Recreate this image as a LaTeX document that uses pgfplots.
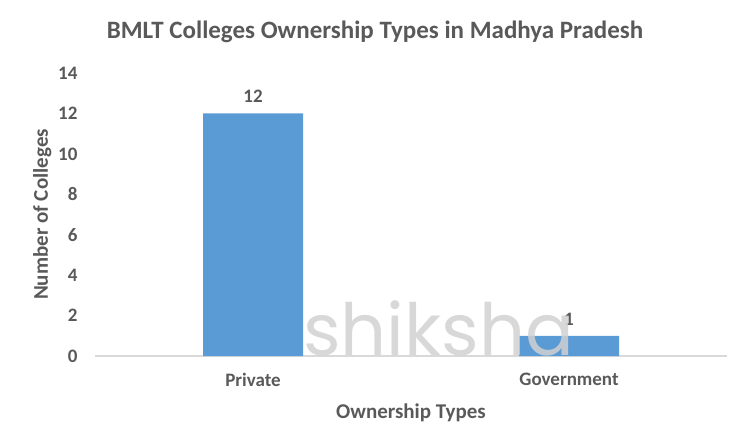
\documentclass[border=0pt]{standalone}
\usepackage{pgfplots}
\pgfplotsset{compat=1.18}
\usepackage{fontspec}
\setmainfont{Carlito}
\newfontfamily\wmfont{Poppins}
\definecolor{barblue}{HTML}{5B9BD5}
\definecolor{txtgray}{HTML}{595959}
\definecolor{axgray}{HTML}{D9D9D9}
\begin{document}
\begin{tikzpicture}[x=1bp,y=1bp]
\useasboundingbox (0,0) rectangle (750,424);
\node[font=\fontsize{25bp}{28bp}\selectfont\bfseries, text=txtgray] at (375,392) {BMLT Colleges Ownership Types in Madhya Pradesh};
\begin{axis}[
  at={(95bp,68bp)}, anchor=south west,
  scale only axis, width=632bp, height=283bp,
  xmin=-0.5, xmax=1.5, ymin=0, ymax=14,
  xtick={0,1}, xticklabels={Private,Government},
  ytick={0,2,...,14},
  axis x line*=bottom, axis y line*=left,
  x axis line style={axgray, line width=1.2bp, -},
  y axis line style={draw=none},
  major tick length=0pt,
  ytick style={draw=none}, xtick style={draw=none},
  /pgf/number format/assume math mode=true,
  tick label style={font=\fontsize{19bp}{22bp}\selectfont\bfseries, text=txtgray},
  yticklabel style={anchor=east, xshift=-14bp},
  xticklabel style={yshift=-14bp},
  xlabel={Ownership Types}, ylabel={Number of Colleges},
  label style={font=\fontsize{21bp}{24bp}\selectfont\bfseries, text=txtgray},
  xlabel style={yshift=-10bp},
  ylabel style={yshift=0bp},
  ybar, bar width=100bp,
  nodes near coords,
  nodes near coords style={font=\fontsize{19bp}{22bp}\selectfont\bfseries, text=txtgray, yshift=7bp},
  clip=false,
]
\addplot[fill=barblue, draw=none] coordinates {(0,12) (1,1)};
\end{axis}
\node[font=\fontsize{72bp}{72bp}\selectfont\wmfont, text=black!18, opacity=0.85, anchor=base west, inner sep=0pt] at (303,69) {shiksha};
\end{tikzpicture}
\end{document}
